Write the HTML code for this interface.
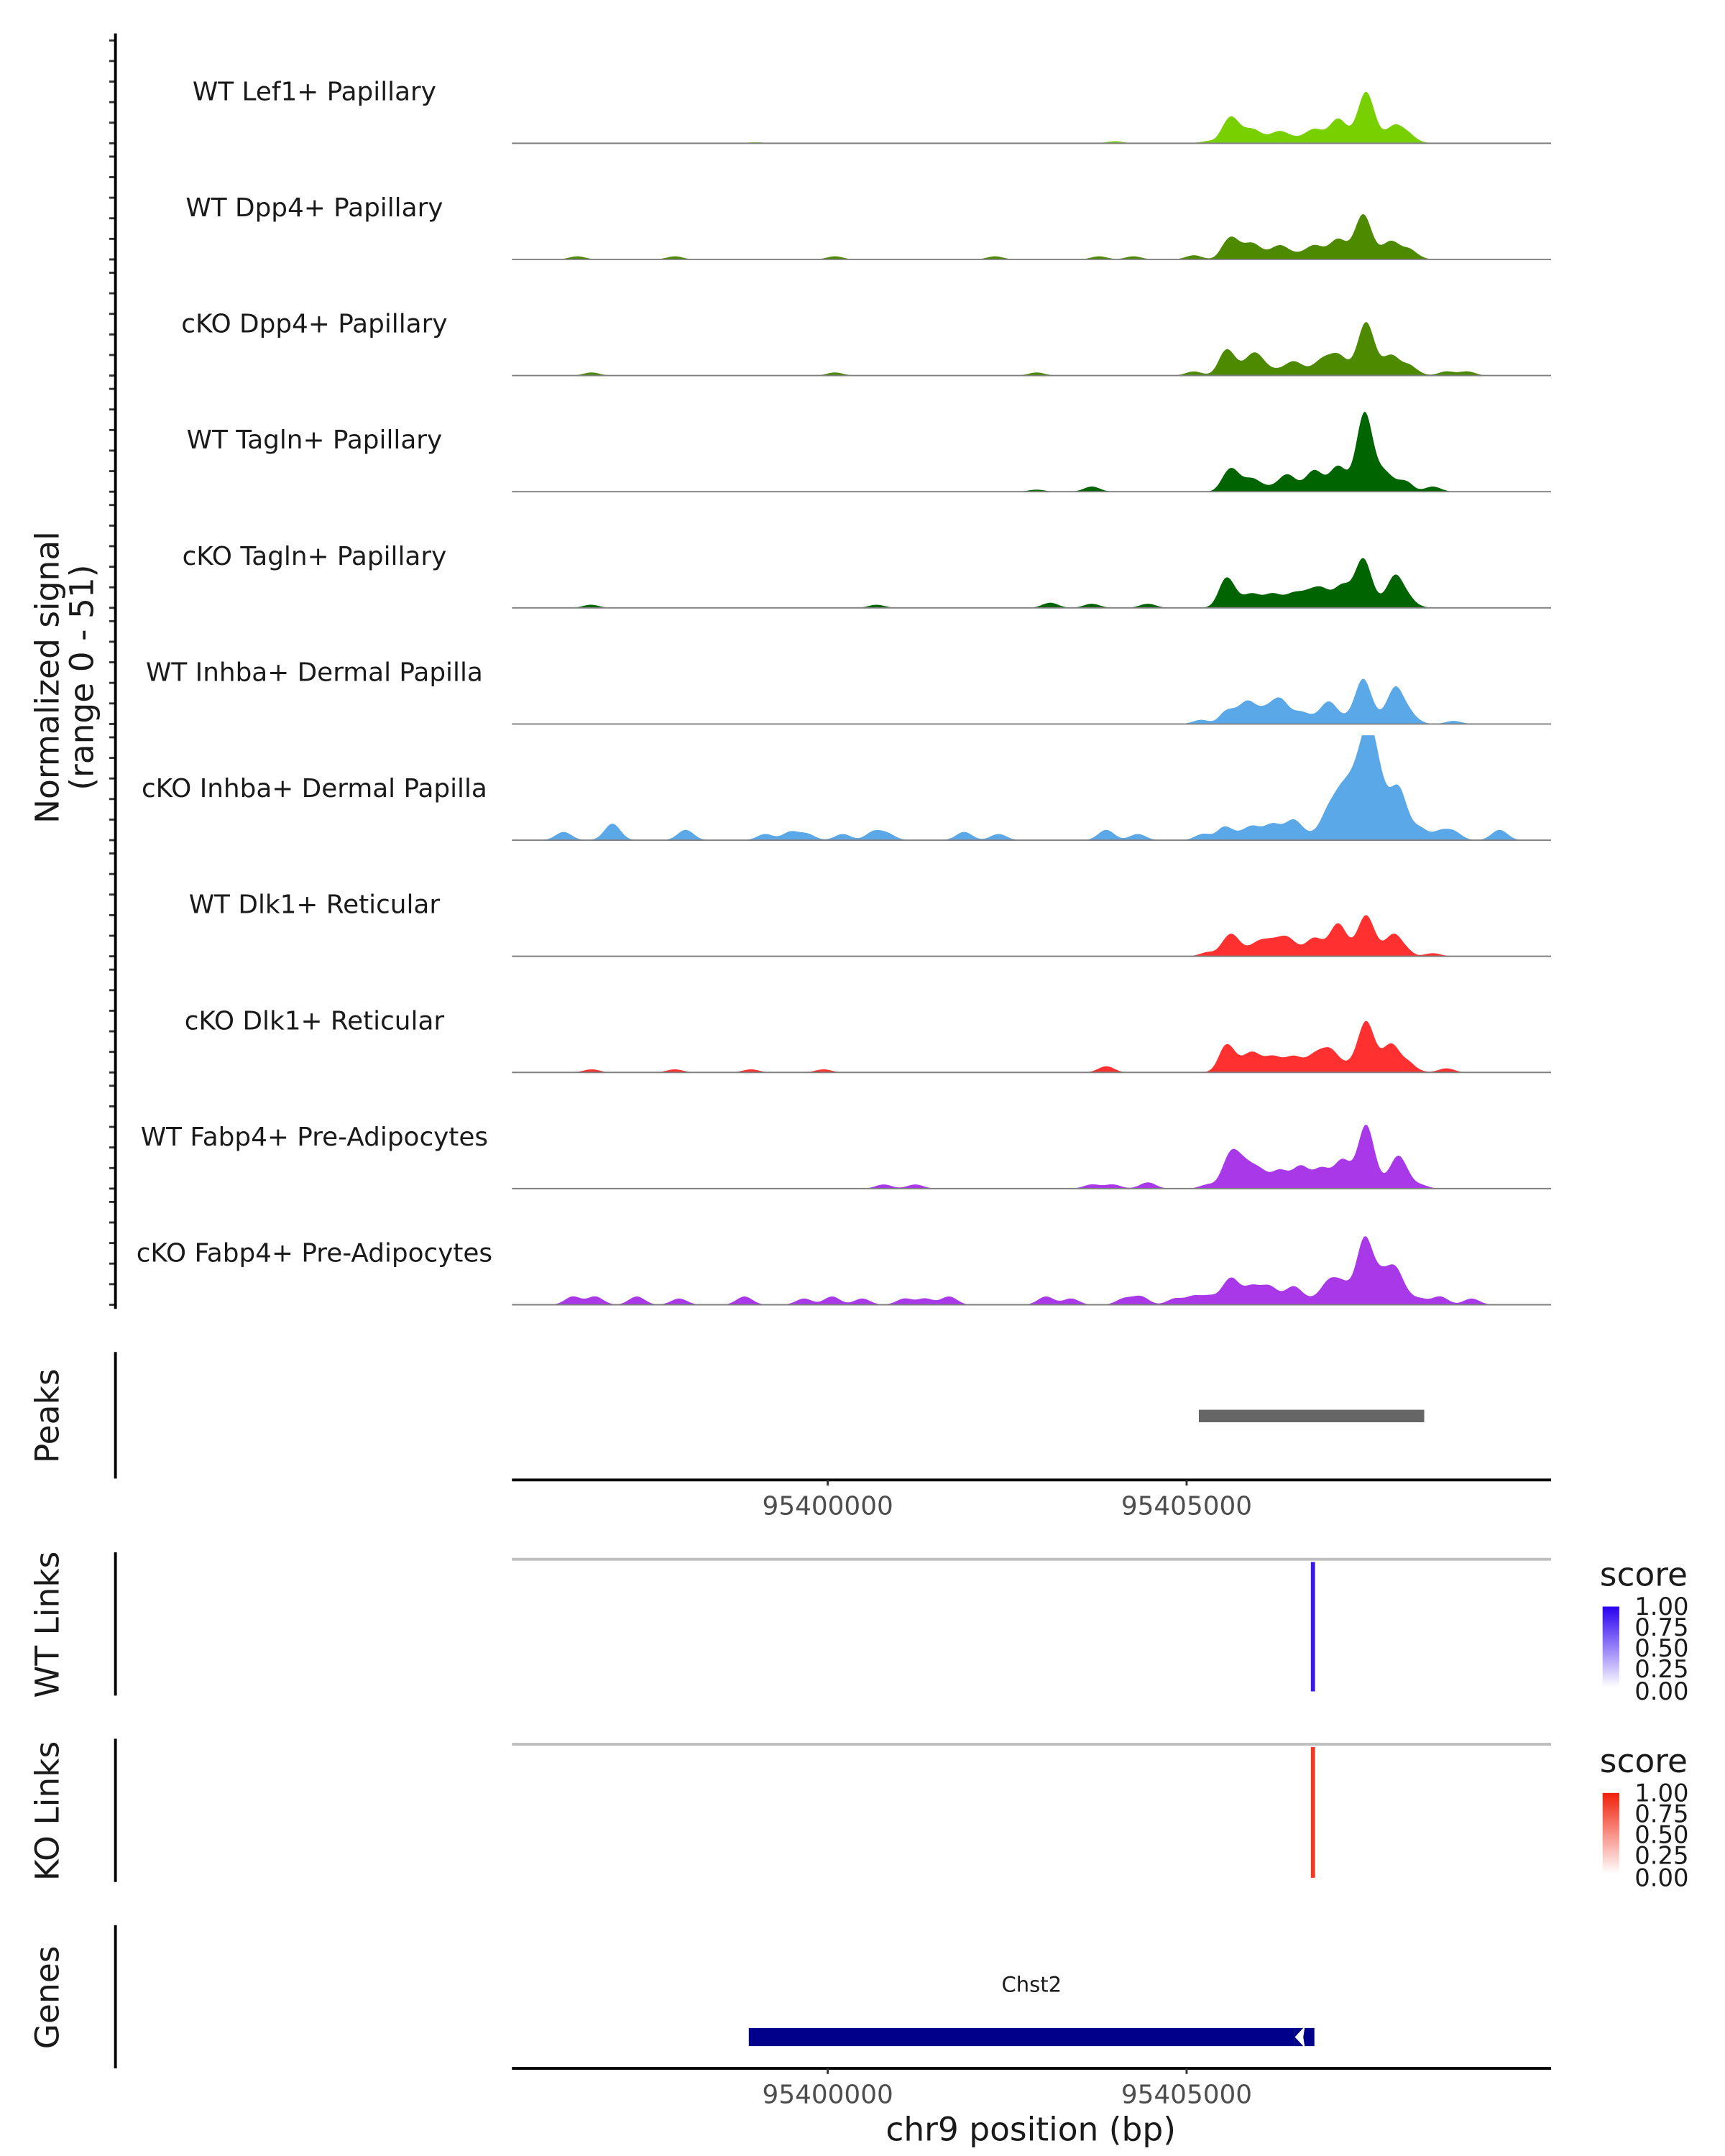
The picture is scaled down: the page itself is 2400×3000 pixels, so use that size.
<!DOCTYPE html>
<html><head><meta charset="utf-8"><style>
html,body{margin:0;padding:0;background:#fff;}
svg{display:block;font-family:"DejaVu Sans","Liberation Sans",sans-serif;}
</style></head><body>
<svg id="fig" xmlns="http://www.w3.org/2000/svg" width="2400" height="3000" viewBox="0 0 1240 1550">
<rect width="1240" height="1550" fill="#fff"/>
<g id="tracks"></g>
<g id="axis"></g>
<text transform="translate(42,487) rotate(-90)" text-anchor="middle" font-size="23.5" fill="#1a1a1a">Normalized signal</text>
<text transform="translate(67,487) rotate(-90)" text-anchor="middle" font-size="23.5" fill="#1a1a1a">(range 0 - 51)</text>

<line x1="83" y1="972" x2="83" y2="1063" stroke="#000" stroke-width="2"/>
<text transform="translate(42,1018) rotate(-90)" text-anchor="middle" font-size="23.5" fill="#1a1a1a">Peaks</text>
<g id="peaks"></g>
<g id="xaxis1"></g>

<line x1="83" y1="1116" x2="83" y2="1219" stroke="#000" stroke-width="2"/>
<text transform="translate(42,1168) rotate(-90)" text-anchor="middle" font-size="23.5" fill="#1a1a1a">WT Links</text>
<line x1="368" y1="1121" x2="1115" y2="1121" stroke="#bebebe" stroke-width="2"/>
<g id="wtlinks"></g>

<line x1="83" y1="1250" x2="83" y2="1353" stroke="#000" stroke-width="2"/>
<text transform="translate(42,1302) rotate(-90)" text-anchor="middle" font-size="23.5" fill="#1a1a1a">KO Links</text>
<line x1="368" y1="1254" x2="1115" y2="1254" stroke="#bebebe" stroke-width="2"/>
<g id="kolinks"></g>

<defs>
<linearGradient id="gb" x1="0" y1="1" x2="0" y2="0"><stop offset="0" stop-color="#fff"/><stop offset="1" stop-color="#2a00f0"/></linearGradient>
<linearGradient id="gr" x1="0" y1="1" x2="0" y2="0"><stop offset="0" stop-color="#fff"/><stop offset="1" stop-color="#f0200a"/></linearGradient>
</defs>
<g font-size="17.5" fill="#1a1a1a">
<text x="1150" y="1140" font-size="23.5">score</text>
<rect x="1152" y="1155" width="12" height="58" fill="url(#gb)"/>
<text x="1175" y="1161">1.00</text><text x="1175" y="1176">0.75</text><text x="1175" y="1191">0.50</text><text x="1175" y="1206">0.25</text><text x="1175" y="1222">0.00</text>
</g>
<g font-size="17.5" fill="#1a1a1a">
<text x="1150" y="1274" font-size="23.5">score</text>
<rect x="1152" y="1289" width="12" height="58" fill="url(#gr)"/>
<text x="1175" y="1295">1.00</text><text x="1175" y="1310">0.75</text><text x="1175" y="1325">0.50</text><text x="1175" y="1340">0.25</text><text x="1175" y="1356">0.00</text>
</g>

<line x1="83" y1="1384" x2="83" y2="1487" stroke="#000" stroke-width="2"/>
<text transform="translate(42,1436) rotate(-90)" text-anchor="middle" font-size="23.5" fill="#1a1a1a">Genes</text>
<g id="genes"></g>
<g id="xaxis2"></g>
<text x="741" y="1539" text-anchor="middle" font-size="23.5" fill="#1a1a1a">chr9 position (bp)</text>
</svg>
<script>
// data (positions in kb relative to 95,400,000; signal values 0-51)
const trackNames = ["WT Lef1+ Papillary","WT Dpp4+ Papillary","cKO Dpp4+ Papillary","WT Tagln+ Papillary","cKO Tagln+ Papillary","WT Inhba+ Dermal Papilla","cKO Inhba+ Dermal Papilla","WT Dlk1+ Reticular","cKO Dlk1+ Reticular","WT Fabp4+ Pre-Adipocytes","cKO Fabp4+ Pre-Adipocytes"];
const trackColors = ["#78d000","#4e8a00","#4e8a00","#006400","#006400","#5aa8e8","#5aa8e8","#ff3030","#ff3030","#a838e8","#a838e8"];
const peakPos = [
 [5.62,5.91,6.30,6.78,7.11,7.50,7.91,8.14,5.30,4.00,-1.0],
 [5.62,5.91,6.30,6.78,7.11,7.46,7.85,8.14,-3.49,-2.13,0.10,2.33,3.78,4.26,5.10],
 [5.56,5.91,6.49,7.11,7.50,7.85,8.14,8.62,8.91,-3.29,0.10,2.91,5.10,6.0,6.9],
 [5.62,5.91,6.40,6.78,7.11,7.48,7.75,8.04,8.43,3.68,2.91],
 [5.56,5.91,6.49,6.88,7.17,7.46,7.91,8.14,3.10,3.68,4.46,0.68,-3.3,6.2,6.7],
 [5.58,5.85,6.30,6.59,6.98,7.46,7.91,8.14,8.72,5.2,6.1],
 [-3.68,-3.00,-1.98,-0.87,-0.52,-0.29,0.21,0.64,0.83,1.90,2.38,3.88,4.32,5.23,5.52,5.91,6.20,6.49,6.98,7.17,7.36,7.54,7.71,7.95,8.24,8.53,8.72,9.36],
 [5.62,6.01,6.40,6.78,7.11,7.50,7.89,8.43,5.3,6.2],
 [5.56,5.91,6.49,7.0,7.50,7.85,8.14,8.62,-3.29,-2.13,-1.07,-0.06,3.88,6.2,6.8],
 [5.62,5.81,6.01,6.30,6.59,6.88,7.17,7.50,7.95,8.24,0.78,1.22,3.68,3.97,4.46,5.3],
 [-3.55,-3.24,-2.66,-2.07,-1.16,-0.33,0.06,0.48,1.07,1.36,1.69,3.04,3.39,4.13,4.36,4.84,5.10,5.33,5.62,5.91,6.15,6.49,6.98,7.17,7.48,7.71,7.91,8.24,8.53,8.97]
];
const peakVal = [
 [10,4,3,4,9,22,6,2,1,1,0.5],
 [8,5,4,4,7,19,6,3,1.5,1.5,1.5,1.5,1.5,1.5,2],
 [10,5,4,7,23,7,3,2,2,1.5,1.5,1.5,2,4,5],
 [9,4,6,8,10,36,7,3,2.5,2.5,1],
 [12,4,4,6,8,21,13,2,2.5,2,2,1.5,1.5,4,4],
 [4,8,9,3,8,19,15,3,1.5,2,4],
 [4,8,5,3,4,3,3,4,3,4,3,5,3,3,4,4,5,7,11,18,22,44,17,22,6,4,4,5],
 [8,4,6,6,13,17,8,1.5,2,4],
 [10,6,4,7,21,10,2,2,1.5,1.5,1.5,1.5,3,4,5],
 [14,8,6,6,8,7,11,28,13,2,2,2,2,2,3,2],
 [4,4,4,3,4,3,4,3,3,3,4,4,3,3,4,3,4,4,10,6,6,6,8,7,29,10,14,3,4,3]
];
const plateau = [3,3,3,2.5,3,3,3,3,4,3,3];
const plateauRange = [5.45, 8.15];
const widths = [0.11];
const yMax = 51;
const xTicks = [95400000, 95405000];
const peakRegion = [95405170, 95408310];
const wtLink = [95406760, 1.0];
const koLink = [95406760, 1.0];
const geneStart = 95398900, geneEnd = 95406780, geneName = "Chst2";

const NS = "http://www.w3.org/2000/svg";
const x0 = 368, x1 = 1115, dMin = 95395600, dMax = 95410078;
const X = bp => x0 + (bp - dMin) / (dMax - dMin) * (x1 - x0);
const trackStep = 83.5, trackBase0 = 103, trackH = 75.4;
const Y = (i, v) => trackBase0 + i * trackStep - v / yMax * trackH;
function mk(tag, attrs, parent){ const e = document.createElementNS(NS, tag); for (const k in attrs) e.setAttribute(k, attrs[k]); parent.appendChild(e); return e; }
const sigm = z => 1 / (1 + Math.exp(-z));

const tracks = document.getElementById("tracks");
const axis = document.getElementById("axis");
trackNames.forEach((name, i) => {
  const g = mk("g", {}, tracks);
  
  
  const t = mk("text", {x: 226, y: trackBase0 + i*trackStep - 31, "text-anchor": "middle", "font-size": 18.5, fill: "#1a1a1a"}, g);
  t.textContent = name;
  
  
  let d = "M" + x0 + "," + Y(i, 0);
  for (let px = x0; px <= x1; px += 1) {
    const kb = ((px - x0) / (x1 - x0) * (dMax - dMin) + dMin - 95400000) / 1000;
    let v = plateau[i] * sigm((kb - plateauRange[0]) / 0.04) * sigm((plateauRange[1] - kb) / 0.04);
    peakPos[i].forEach((p, k) => { const z = (kb - p) / widths[0]; v += peakVal[i][k] * Math.exp(-z*z/2); });
    v = Math.min(v, yMax);
    d += " L" + px + "," + Y(i, v).toFixed(2);
  }
  d += " L" + x1 + "," + Y(i, 0) + " Z";
  const path = mk("path", {d: d, fill: trackColors[i], stroke: "none"}, g);
  
  
  const bl = mk("line", {x1: x0, x2: x1, y1: Y(i,0), y2: Y(i,0), stroke: "#7f7f7f", "stroke-width": 1}, g);
  
  
  for (let v = 0; v <= 50; v += 10) {
    const tk = mk("line", {x1: 78.5, x2: 83, y1: Y(i, v), y2: Y(i, v), stroke: "#333", "stroke-width": 1.5}, axis);
    
    
  }
});
const al = mk("line", {x1: 83, x2: 83, y1: 24, y2: 941, stroke: "#000", "stroke-width": 2}, axis);



const pk = mk("rect", {x: X(peakRegion[0]), y: 1013.5, width: X(peakRegion[1]) - X(peakRegion[0]), height: 9, fill: "#666"}, document.getElementById("peaks"));



function xAxis(gid, y) {
  const g = document.getElementById(gid);
  const l = mk("line", {x1: x0, x2: x1, y1: y, y2: y, stroke: "#000", "stroke-width": 2}, g);
  
  
  xTicks.forEach(v => {
    const tk = mk("line", {x1: X(v), x2: X(v), y1: y, y2: y + 4, stroke: "#333", "stroke-width": 1.5}, g);
    
    
    const t = mk("text", {x: X(v), y: y + 25, "text-anchor": "middle", "font-size": 18.5, fill: "#4d4d4d"}, g);
    t.textContent = v;
    
    
  });
}
xAxis("xaxis1", 1064);
xAxis("xaxis2", 1487);

const wl = mk("line", {x1: X(wtLink[0]), x2: X(wtLink[0]), y1: 1123, y2: 1123 + 93*wtLink[1], stroke: "#3a1ae8", "stroke-width": 3}, document.getElementById("wtlinks"));


const kl = mk("line", {x1: X(koLink[0]), x2: X(koLink[0]), y1: 1256, y2: 1256 + 94*koLink[1], stroke: "#f03a24", "stroke-width": 3}, document.getElementById("kolinks"));



const gg = document.getElementById("genes");
const ge = X(geneEnd);
const gb = mk("rect", {x: X(geneStart), y: 1458, width: ge - X(geneStart) - 14, height: 13, fill: "#00008b"}, gg);


const ga = mk("path", {d: `M${ge-14},1458 L${ge-14},1471 L${ge-8},1471 L${ge-14},1464.5 L${ge-8},1458 Z M${ge-8},1464.5 L${ge-7},1458 L${ge},1458 L${ge},1471 L${ge-7},1471 Z`, fill: "#00008b"}, gg);


const gt = mk("text", {x: (X(geneStart) + ge) / 2, y: 1432, "text-anchor": "middle", "font-size": 15, fill: "#1a1a1a"}, gg);
gt.textContent = geneName;


</script>
</body></html>
